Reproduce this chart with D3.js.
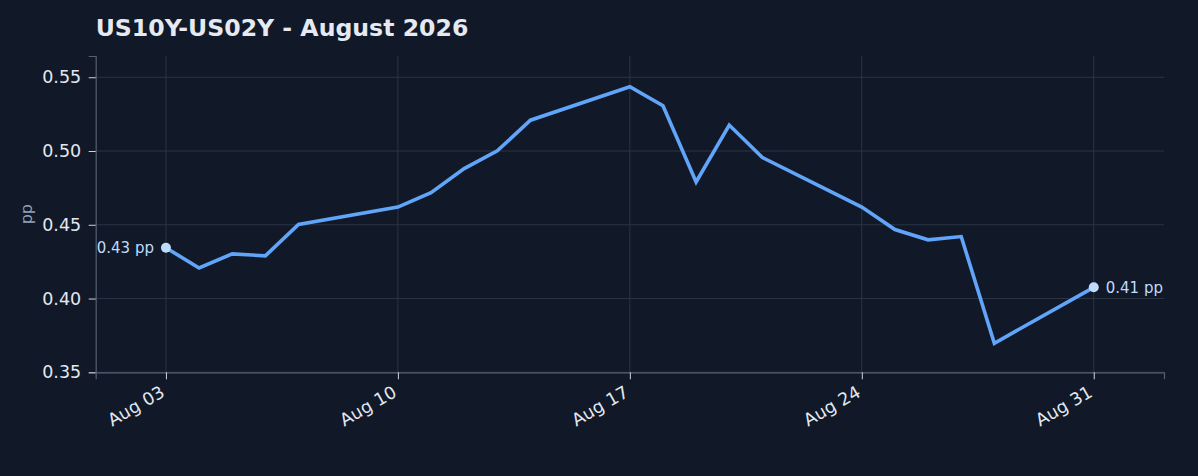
<!DOCTYPE html>
<html>
<head>
<meta charset="utf-8">
<script src="https://cdn.jsdelivr.net/npm/d3@7/dist/d3.min.js"></script>
<style>
  html, body { margin: 0; padding: 0; background: #111827; }
  svg { display: block; font-family: "DejaVu Sans", sans-serif; }
</style>
</head>
<body>
<svg id="chart" width="1198" height="476"></svg>
<script>
// ---- data ----
const title = "US10Y-US02Y - August 2026";
const yLabel = "pp";
const dates = ["2026-08-03","2026-08-04","2026-08-05","2026-08-06","2026-08-07",
               "2026-08-10","2026-08-11","2026-08-12","2026-08-13","2026-08-14",
               "2026-08-17","2026-08-18","2026-08-19","2026-08-20","2026-08-21",
               "2026-08-24","2026-08-25","2026-08-26","2026-08-27","2026-08-28",
               "2026-08-31"];
const values = [0.4344, 0.4207, 0.4303, 0.4289, 0.4502,
                0.4620, 0.4718, 0.4881, 0.5001, 0.5209,
                0.5436, 0.5307, 0.4790, 0.5176, 0.4956,
                0.4620, 0.4468, 0.4398, 0.4420, 0.3697,
                0.4076];
const yTicks = [0.35, 0.40, 0.45, 0.50, 0.55];
const xTicks = ["2026-08-03","2026-08-10","2026-08-17","2026-08-24","2026-08-31"];
const yDomain = [0.35, 0.5644];

// ---- layout ----
const svg = d3.select("#chart");
const L = 95.7, R = 1164, T = 56, B = 372.3;
const parse = d3.utcParse("%Y-%m-%d");
const data = dates.map((d, i) => ({ date: parse(d), value: values[i] }));
const dayMs = 86400000, padDays = 2.12;
const x = d3.scaleUtc()
  .domain([new Date(+data[0].date - padDays * dayMs), new Date(+data[data.length - 1].date + padDays * dayMs)])
  .range([L, R]);
const y = d3.scaleLinear().domain(yDomain).range([B, T]);

const gridColor = "#2b3545";
const spineColor = "#556070";
const tickColor = "#cbd5e1";
const textColor = "#e2e8f0";

// grid
svg.append("g").selectAll("line.h").data(yTicks).join("line")
  .attr("x1", L).attr("x2", R)
  .attr("y1", d => y(d)).attr("y2", d => y(d))
  .attr("stroke", gridColor).attr("stroke-width", 1);
svg.append("g").selectAll("line.v").data(xTicks.map(parse)).join("line")
  .attr("x1", d => x(d)).attr("x2", d => x(d))
  .attr("y1", T).attr("y2", B)
  .attr("stroke", gridColor).attr("stroke-width", 1);

// y axis
const yAxis = svg.append("g").attr("transform", `translate(${L},0)`)
  .call(d3.axisLeft(y).tickValues(yTicks).tickFormat(d3.format(".2f")).tickSize(7).tickPadding(7.5));
yAxis.select(".domain").attr("stroke", spineColor).attr("stroke-width", 1.2);
yAxis.selectAll(".tick line").attr("stroke", tickColor);
yAxis.selectAll(".tick text").attr("fill", textColor).attr("font-size", "17.5px")
  .attr("font-family", "DejaVu Sans");

// x axis
const xAxis = svg.append("g").attr("transform", `translate(0,${B})`)
  .call(d3.axisBottom(x).tickValues(xTicks.map(parse)).tickFormat(d3.utcFormat("%b %d")).tickSize(7).tickPadding(6));
xAxis.select(".domain").attr("stroke", spineColor).attr("stroke-width", 1.2);
xAxis.selectAll(".tick line").attr("stroke", tickColor);
xAxis.selectAll(".tick text")
  .attr("fill", textColor).attr("font-size", "17.5px").attr("font-family", "DejaVu Sans")
  .attr("text-anchor", "end")
  .attr("dy", null).attr("y", null)
  .attr("transform", "translate(-3,19) rotate(-30)")
  .attr("dominant-baseline", "middle");

// line
const line = d3.line().x(d => x(d.date)).y(d => y(d.value));
svg.append("path").datum(data)
  .attr("d", line).attr("fill", "none")
  .attr("stroke", "#60a5fa").attr("stroke-width", 3.6)
  .attr("stroke-linejoin", "miter").attr("stroke-linecap", "butt");

// endpoints
const ends = [data[0], data[data.length - 1]];
svg.append("g").selectAll("circle").data(ends).join("circle")
  .attr("cx", d => x(d.date)).attr("cy", d => y(d.value)).attr("r", 5)
  .attr("fill", "#bfdbfe");
svg.append("g").selectAll("text").data(ends).join("text")
  .attr("x", (d, i) => x(d.date) + (i === 0 ? -12 : 12))
  .attr("y", d => y(d.value))
  .attr("dy", "0.35em")
  .attr("text-anchor", (d, i) => i === 0 ? "end" : "start")
  .attr("fill", "#bfdbfe").attr("font-size", "15px")
  .text(d => d3.format(".2f")(d.value) + " pp");

// y label
svg.append("text")
  .attr("transform", `translate(32,${(T + B) / 2}) rotate(-90)`)
  .attr("text-anchor", "middle")
  .attr("fill", "#94a3b8").attr("font-size", "16px")
  .text(yLabel);

// title
svg.append("text")
  .attr("x", L).attr("y", 36)
  .attr("fill", "#e5e9f2").attr("font-size", "23.6px").attr("font-weight", "bold")
  .text(title);
</script>
</body>
</html>
